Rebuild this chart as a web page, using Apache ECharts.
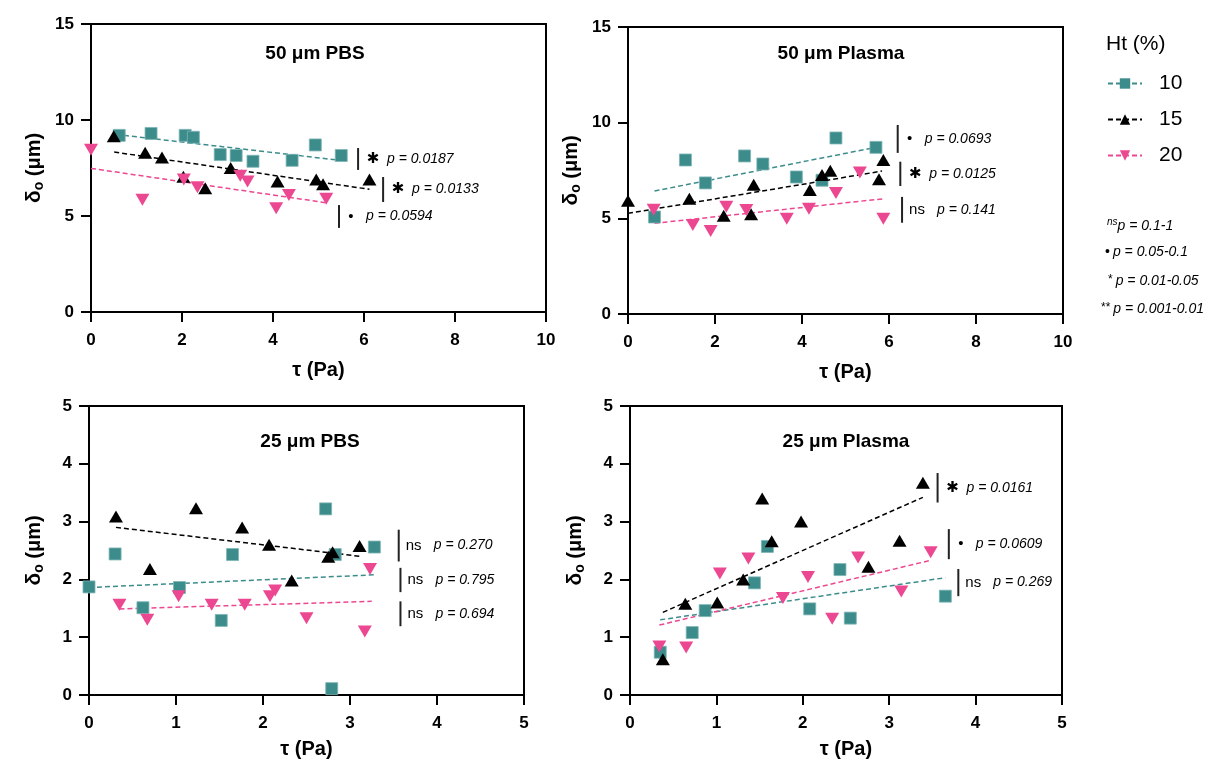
<!DOCTYPE html>
<html><head><meta charset="utf-8">
<script src="https://cdn.jsdelivr.net/npm/echarts/dist/echarts.min.js"></script>
<style>html,body{margin:0;padding:0;background:#fff}#c{width:1212px;height:772px}</style>
</head><body><div id="c"></div>
<script>
// ---- data ----
const legendNames = ['10', '15', '20'];
const xTicksTop = [0, 2, 4, 6, 8, 10];
const yTicksTop = [0, 5, 10, 15];
const xTicksBottom = [0, 1, 2, 3, 4, 5];
const yTicksBottom = [0, 1, 2, 3, 4, 5];

// 50 um PBS
const p1_10 = [[0.62,9.2],[1.32,9.3],[2.07,9.2],[2.25,9.1],[2.84,8.2],[3.19,8.15],[3.56,7.85],[4.42,7.9],[4.93,8.7],[5.5,8.15]];
const p1_15 = [[0.5,9.15],[1.19,8.3],[1.56,8.05],[2.03,7.05],[2.51,6.45],[3.07,7.5],[4.1,6.8],[4.95,6.9],[5.1,6.65],[6.12,6.9]];
const p1_20 = [[0,8.45],[1.13,5.85],[2.04,6.9],[2.34,6.5],[3.28,7.1],[3.44,6.8],[4.07,5.4],[4.35,6.1],[5.17,5.9]];
const f1_10 = [[0.55,9.25],[5.4,7.92]];
const f1_15 = [[0.51,8.33],[6.12,6.39]];
const f1_20 = [[0,7.48],[5.17,5.69]];
const a1 = [[5.87,8.54,7.4,'*','p = 0.0187'],[6.42,7.03,5.73,'*','p = 0.0133'],[5.45,5.57,4.38,'•','p = 0.0594']];

// 50 um Plasma
const p2_10 = [[0.61,5.07],[1.32,8.05],[1.78,6.85],[2.68,8.26],[3.1,7.84],[3.87,7.16],[4.46,6.99],[4.78,9.2],[5.7,8.71]];
const p2_15 = [[0,5.92],[1.41,6.03],[2.2,5.14],[2.83,5.21],[2.89,6.76],[4.18,6.48],[4.46,7.27],[4.65,7.49],[5.77,7.04],[5.87,8.05]];
const p2_20 = [[0.59,5.45],[1.49,4.65],[1.9,4.34],[2.26,5.61],[2.72,5.44],[3.65,4.98],[4.16,5.5],[4.78,6.33],[5.33,7.39],[5.87,4.98]];
const f2_10 = [[0.61,6.43],[5.7,8.71]];
const f2_15 = [[0,5.26],[5.84,7.47]];
const f2_20 = [[0.61,4.74],[5.9,6.03]];
const a2 = [[6.2,9.88,8.42,'•','p = 0.0693'],[6.26,7.96,6.69,'*','p = 0.0125'],[6.3,6.12,4.77,'ns','p = 0.141']];

// 25 um PBS
const p3_10 = [[0,1.87],[0.3,2.44],[0.62,1.51],[1.04,1.86],[1.52,1.29],[1.65,2.43],[2.72,3.22],[2.79,0.11],[2.83,2.43],[3.28,2.56]];
const p3_15 = [[0.31,3.09],[0.7,2.18],[1.23,3.23],[1.76,2.9],[2.07,2.6],[2.33,1.98],[2.75,2.39],[2.8,2.47],[3.11,2.58]];
const p3_20 = [[0.35,1.56],[0.67,1.3],[1.03,1.71],[1.41,1.56],[1.79,1.56],[2.08,1.71],[2.14,1.81],[2.5,1.33],[3.17,1.1],[3.23,2.18]];
const f3_10 = [[0,1.86],[3.29,2.08]];
const f3_15 = [[0.31,2.9],[3.11,2.4]];
const f3_20 = [[0.35,1.49],[3.25,1.62]];
const a3 = [[3.56,2.86,2.31,'ns','p = 0.270'],[3.58,2.2,1.78,'ns','p = 0.795'],[3.58,1.62,1.19,'ns','p = 0.694']];

// 25 um Plasma
const p4_10 = [[0.35,0.74],[0.72,1.08],[0.87,1.46],[1.44,1.94],[1.59,2.57],[2.08,1.49],[2.43,2.17],[2.55,1.33],[3.65,1.71]];
const p4_15 = [[0.38,0.62],[0.64,1.58],[1.01,1.6],[1.31,2.0],[1.53,3.4],[1.64,2.66],[1.98,3.0],[2.76,2.22],[3.12,2.67],[3.39,3.67]];
const p4_20 = [[0.34,0.84],[0.65,0.82],[1.04,2.1],[1.37,2.36],[1.77,1.68],[2.06,2.04],[2.34,1.32],[2.64,2.38],[3.14,1.79],[3.48,2.47]];
const f4_10 = [[0.35,1.3],[3.65,2.03]];
const f4_15 = [[0.38,1.43],[3.39,3.42]];
const f4_20 = [[0.34,1.21],[3.48,2.33]];
const a4 = [[3.56,3.84,3.33,'*','p = 0.0161'],[3.69,2.87,2.35,'•','p = 0.0609'],[3.8,2.18,1.71,'ns','p = 0.269']];

const keyLines = [['ns','p = 0.1-1'],['•','p = 0.05-0.1'],['*','p = 0.01-0.05'],['**','p = 0.001-0.01']];

// ---- styling ----
const FONT = "'Liberation Sans', Arial, sans-serif";
const COLORS = ['#3d8c8c', '#000000', '#ec4891'];
const DOWN_TRI = 'path://M0,0 L10,0 L5,8.7 Z';
const SYMBOLS = ['rect', 'triangle', DOWN_TRI];
const SIZES = [12, [14, 12], [14, 12]];

const panels = [
  {title:'50 μm PBS', cx:310, ty:39, grid:{left:91, top:24, width:455, height:288}, xmax:10, xint:2, ymax:15, yint:5, pts:[p1_10,p1_15,p1_20], fits:[f1_10,f1_15,f1_20], ann:a1, yGap:45, xGap:48},
  {title:'50 μm Plasma', cx:836, ty:39, grid:{left:628, top:27, width:435, height:287}, xmax:10, xint:2, ymax:15, yint:5, pts:[p2_10,p2_15,p2_20], fits:[f2_10,f2_15,f2_20], ann:a2, yGap:45, xGap:48},
  {title:'25 μm PBS', cx:305, ty:427, grid:{left:89, top:406, width:435, height:289}, xmax:5, xint:1, ymax:5, yint:1, pts:[p3_10,p3_15,p3_20], fits:[f3_10,f3_15,f3_20], ann:a3, yGap:43, xGap:44},
  {title:'25 μm Plasma', cx:841, ty:427, grid:{left:630, top:406, width:432, height:289}, xmax:5, xint:1, ymax:5, yint:1, pts:[p4_10,p4_15,p4_20], fits:[f4_10,f4_15,f4_20], ann:a4, yGap:43, xGap:44}
];

const grids = [], xAxes = [], yAxes = [], series = [], titles = [];

panels.forEach((P, i) => {
  grids.push(Object.assign({show:true, borderColor:'#000', borderWidth:2, backgroundColor:'transparent', containLabel:false}, P.grid));
  const axisCommon = {
    gridIndex:i, min:0, splitLine:{show:false},
    axisLine:{show:true, onZero:false, lineStyle:{color:'#000', width:2}},
    axisTick:{show:true, length:10, lineStyle:{color:'#000', width:2}},
    axisLabel:{color:'#000', fontSize:17, fontWeight:'bold', fontFamily:FONT},
    nameLocation:'middle'
  };
  xAxes.push(Object.assign({}, axisCommon, {
    type:'value', max:P.xmax, interval:P.xint, name:'τ (Pa)', nameGap:P.xGap,
    nameTextStyle:{color:'#000', fontSize:20, fontWeight:'bold', fontFamily:FONT},
    axisLabel:Object.assign({}, axisCommon.axisLabel, {margin:20})
  }));
  yAxes.push(Object.assign({}, axisCommon, {
    type:'value', max:P.ymax, interval:P.yint, name:'{d|δ}{s|o}{n| (μm)}', nameGap:P.yGap, nameRotate:90,
    nameTextStyle:{color:'#000', fontSize:20, fontWeight:'bold', fontFamily:FONT,
      rich:{d:{fontSize:21, fontWeight:'bold', fontFamily:FONT, color:'#000'},
            s:{fontSize:14, fontWeight:'bold', fontFamily:FONT, color:'#000', verticalAlign:'bottom', padding:[10,0,0,0]},
            n:{fontSize:20, fontWeight:'bold', fontFamily:FONT, color:'#000'}}},
    axisLabel:Object.assign({}, axisCommon.axisLabel, {margin:17})
  }));
  titles.push({text:P.title, left:P.cx, top:P.ty, textAlign:'center',
    textStyle:{fontSize:19, fontWeight:'bold', color:'#000', fontFamily:FONT}});

  // fitted dashed lines
  P.fits.forEach((f, k) => {
    series.push({type:'line', name:legendNames[k], xAxisIndex:i, yAxisIndex:i, data:f,
      symbol:SYMBOLS[k], symbolSize:12, showSymbol:false, silent:true, z:2,
      itemStyle:{color:COLORS[k]},
      lineStyle:{color:COLORS[k], width:1.5, type:[5,3]}});
  });
  P.pts.forEach((d, k) => {
    series.push({type:'scatter', name:legendNames[k]+' pts', xAxisIndex:i, yAxisIndex:i, data:d,
      symbol:SYMBOLS[k], symbolSize:SIZES[k], z:3,
      itemStyle:{color:COLORS[k], opacity:1, borderColor:k===0?'#7fb5b5':COLORS[k], borderWidth:k===0?0.8:0}});
  });
  const ann = P.ann;
  series.push({type:'custom', xAxisIndex:i, yAxisIndex:i, z:4, silent:true, clip:false,
    data:ann.map(a => [a[0], a[1], a[2]]),
    encode:{x:0, y:[1,2]},
    renderItem:function(params, api){
      const a = ann[params.dataIndex];
      const p1 = api.coord([api.value(0), api.value(1)]);
      const p2 = api.coord([api.value(0), api.value(2)]);
      const mid = (p1[1] + p2[1]) / 2;
      const sym = a[3];
      let symX, txtX, symStyle;
      if (sym === '*') { symX = p1[0] + 15; txtX = p1[0] + 29; symStyle = {text:'✱', fontSize:15, fontWeight:'bold', fill:'#000', align:'center', verticalAlign:'middle', fontFamily:"'DejaVu Sans', sans-serif"}; }
      else if (sym === '•') { symX = p1[0] + 12; txtX = p1[0] + 27; symStyle = {text:'•', fontSize:15, fill:'#000', align:'center', verticalAlign:'middle', fontFamily:FONT}; }
      else { symX = p1[0] + 7; txtX = p1[0] + 35; symStyle = {text:'ns', fontSize:15, fill:'#000', align:'left', verticalAlign:'middle', fontFamily:FONT}; }
      return {type:'group', children:[
        {type:'line', shape:{x1:p1[0], y1:p1[1], x2:p2[0], y2:p2[1]}, style:{stroke:'#222', lineWidth:2}},
        {type:'text', x:symX, y:mid, style:symStyle},
        {type:'text', x:txtX, y:mid, style:{text:a[4], fontSize:14, fontStyle:'italic', fill:'#000', align:'left', verticalAlign:'middle', fontFamily:FONT}}
      ]};
    }});
});

titles.push({text:'Ht (%)', left:1101, top:29, textStyle:{fontSize:21, fontWeight:'normal', color:'#000', fontFamily:FONT}});
const keyTops = [212, 240, 269, 297];
const keyLefts = [1102, 1100, 1103, 1096];
keyLines.forEach((k, j) => {
  titles.push({text:'{m|' + k[0] + '}{p|' + k[1] + '}', left:keyLefts[j], top:keyTops[j],
    textStyle:{fontFamily:FONT, fontWeight:'normal', rich:{
      m: j === 0 ? {fontSize:10, fontStyle:'italic', fontWeight:'normal', color:'#000', verticalAlign:'top', padding:[0,0,8,0], fontFamily:FONT}
                 : {fontSize:j===1?14:12, fontWeight:'normal', color:'#000', padding:[0,3,0,0], fontFamily:FONT, verticalAlign:j===1?'middle':'top'},
      p: {fontSize:14, fontStyle:'italic', fontWeight:'normal', color:'#000', fontFamily:FONT}
    }}});
});

const chart = echarts.init(document.getElementById('c'), null, {renderer:'canvas'});
chart.setOption({
  backgroundColor:'#fff',
  animation:false,
  title:titles,
  grid:grids, xAxis:xAxes, yAxis:yAxes,
  legend:{data:legendNames, orient:'vertical', left:1102, top:68, itemWidth:34, itemHeight:13, itemGap:15,
    selectedMode:false, textStyle:{fontSize:21, color:'#000', fontFamily:FONT, padding:[0,0,0,12]}},
  series:series
});
</script></body></html>
